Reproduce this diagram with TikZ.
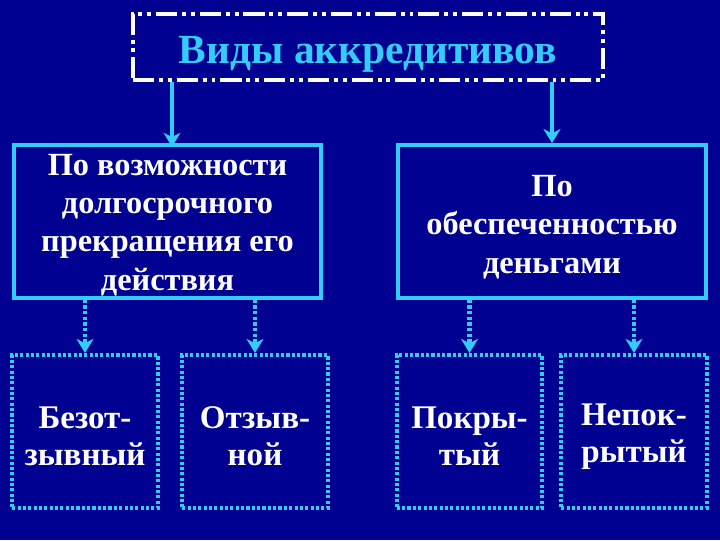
\documentclass[tikz,border=0pt]{standalone}
\usepackage{fontspec}
\setmainfont{Liberation Serif}
\usepackage{tikz}
\usetikzlibrary{positioning, arrows.meta}
\definecolor{navy}{RGB}{0,0,145}
\definecolor{cyanline}{RGB}{51,204,255}
\newcommand{\lowered}[2]{\raisebox{-#1}[\height][\depth]{#2}}

\begin{document}
\begin{tikzpicture}[x=0.025cm, y=-0.025cm,
  titlebox/.style={draw=white, line width=2.6pt,
    dash pattern=on 15pt off 3.5pt on 2.8pt off 3.5pt on 2.8pt off 3.5pt,
    minimum width=11.75cm, minimum height=1.65cm, text=cyanline,
    font=\fontsize{29.5}{33}\selectfont\bfseries},
  groupbox/.style={draw=cyanline, line width=2.6pt, minimum height=3.825cm,
    align=center, text=white, font=\fontsize{23}{27.3}\selectfont\bfseries},
  kindbox/.style={draw=cyanline, line width=2.8pt, dash pattern=on 2.2pt off 1.6pt,
    minimum width=3.575cm, minimum height=3.825cm,
    align=center, text=white, font=\fontsize{23.5}{26}\selectfont\bfseries},
  solidarrow/.style={cyanline, line width=2.6pt, -{Stealth[length=10pt, width=12pt, inset=3pt]}},
  dotarrow/.style={solidarrow, line width=3pt, dash pattern=on 2.4pt off 1.6pt}]

  % background
  \fill[navy] (0,0) rectangle (720,540);

  % title
  \node[titlebox] (title) at (368,47) {\lowered{5pt}{Виды аккредитивов}};

  % groups
  \node[groupbox, minimum width=7.675cm] (revoc) at (167.5,221.5)
    {\lowered{2.5pt}{\parbox{7cm}{\centering По возможности\\долгосрочного\\прекращения его\\действия}}};
  \node[groupbox, minimum width=7.7cm] (cover) at (552,221.5)
    {\lowered{4pt}{\parbox{7cm}{\centering По\\обеспеченностью\\деньгами}}};

  % kinds
  \foreach \name/\x/\lbl in {irrev/85/{Безот-\\зывный}, rev/255/{Отзыв-\\ной},
                             covd/469.5/{Покры-\\тый}, uncov/634/{Непок-\\рытый}}
    \node[kindbox] (\name) at (\x,431.5) {\lowered{3.5pt}{\parbox{3.4cm}{\centering\lbl}}};

  % arrows
  \draw[solidarrow] (title.south -| revoc.north) ++(4.5,0) -- ++(0,65);
  \draw[solidarrow] (title.south -| cover.north) -- (cover.north);
  \foreach \from/\to in {revoc/irrev, revoc/rev, cover/covd, cover/uncov}
    \draw[dotarrow] (\from.south -| \to.north) -- (\to.north);
\end{tikzpicture}
\end{document}
